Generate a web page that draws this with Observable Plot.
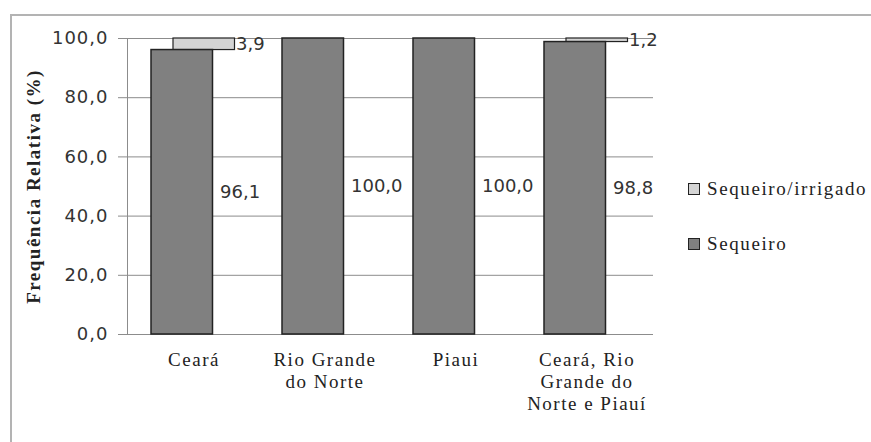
<!DOCTYPE html>
<html>
<head>
<meta charset="utf-8">
<script src="https://cdn.jsdelivr.net/npm/d3@7"></script>
<script src="https://cdn.jsdelivr.net/npm/@observablehq/plot@0.6"></script>
<style>
  html, body { margin: 0; padding: 0; background: #fff; }
  #wrap { position: relative; width: 871px; height: 442px; overflow: hidden; }
  #border { position: absolute; left: 10px; top: 14px; width: 900px; height: 500px;
            border-top: 2px solid #b3b3b3; border-left: 2px solid #b3b3b3; box-sizing: border-box; }
  #chart { position: absolute; left: 0; top: 0; }
  #chart svg g[aria-label="y-axis tick label"] text { letter-spacing: 1px; font-family: "DejaVu Sans", sans-serif !important; }
  #chart svg g[aria-label="x-axis tick label"] text { letter-spacing: 1.5px; font-family: "Liberation Serif", serif !important; }
  #chart svg g.ytitle text { letter-spacing: 1.5px; font-family: "Liberation Serif", serif !important; }
  .leg { position: absolute; left: 688px; font-family: "Liberation Serif", serif; font-size: 19px;
         letter-spacing: 1.6px; color: #222; white-space: nowrap; display: flex; align-items: center; }
  .leg span.sw { display: inline-block; width: 12px; height: 12px; border: 1px solid #222;
                 margin-right: 7px; box-sizing: border-box; }
</style>
</head>
<body>
<div id="wrap">
  <div id="border"></div>
  <div id="chart"></div>
  <div id="legend"></div>
</div>
<script>
const categories = ["Ceará", "Rio Grande\ndo Norte", "Piaui", "Ceará, Rio\nGrande do\nNorte e Piauí"];
const sequeiro = [96.1, 100.0, 100.0, 98.8];
const irrigado = [3.9, 0, 0, 1.2];
const yTicks = [0, 20, 40, 60, 80, 100];
const seriesNames = ["Sequeiro/irrigado", "Sequeiro"];
const seriesColors = ["#d4d4d4", "#808080"];

const fmt = v => d3.format(".1f")(v).replace(".", ",");
const rows = categories.map((c, i) => ({cat: c, seq: sequeiro[i], irr: irrigado[i]}));
const irrRows = rows.filter(d => d.irr > 0);

const plot = Plot.plot({
  width: 871,
  height: 442,
  marginLeft: 127,
  marginRight: 218,
  marginTop: 38,
  marginBottom: 108,
  style: {background: "transparent", overflow: "visible"},
  x: {domain: categories, padding: 0},
  y: {domain: [0, 100]},
  marks: [
    Plot.gridY(yTicks, {stroke: "#8c8c8c", strokeOpacity: 1}),
    Plot.axisY(yTicks, {tickSize: 9, tickPadding: 10, stroke: "#8c8c8c", tickFormat: fmt,
      fontSize: 18, fontFamily: "DejaVu Sans", fill: "#333", label: null}),
    Plot.frame({anchor: "left", stroke: "#8c8c8c"}),
    Plot.axisX({tickSize: 0, tickPadding: 16, fontSize: 19, fontFamily: "Liberation Serif",
      fill: "#222", lineHeight: 1.15, label: null}),
    Plot.barY(irrRows, {x: "cat", y1: "seq", y2: d => d.seq + d.irr, fill: seriesColors[0],
      stroke: "#222", strokeWidth: 1.2, insetLeft: 45, insetRight: 24.5}),
    Plot.barY(rows, {x: "cat", y1: 0, y2: "seq", fill: seriesColors[1],
      stroke: "#222", strokeWidth: 1.5, insetLeft: 23, insetRight: 46.5}),
    Plot.text(rows, {x: "cat", y: d => d.seq / 2, text: d => fmt(d.seq), textAnchor: "start",
      dx: 26, fontSize: 18, fontFamily: "DejaVu Sans", fill: "#333"}),
    Plot.text(irrRows, {x: "cat", y: d => d.seq + d.irr / 2, text: d => fmt(d.irr), textAnchor: "start",
      dx: 42, fontSize: 18, fontFamily: "DejaVu Sans", fill: "#333"}),
    Plot.text(["Frequência Relativa (%)"], {frameAnchor: "left", textAnchor: "middle", rotate: -90, dx: -94,
      fontSize: 19, fontWeight: "bold", fontFamily: "Liberation Serif", fill: "#222", className: "ytitle"})
  ]
});
document.getElementById("chart").appendChild(plot);

const legend = document.getElementById("legend");
const legY = [190, 245];
seriesNames.forEach((name, i) => {
  const el = document.createElement("div");
  el.className = "leg";
  el.style.top = (legY[i] - 12) + "px";
  el.innerHTML = `<span class="sw" style="background:${seriesColors[i]}"></span>${name}`;
  legend.appendChild(el);
});
</script>
</body>
</html>
